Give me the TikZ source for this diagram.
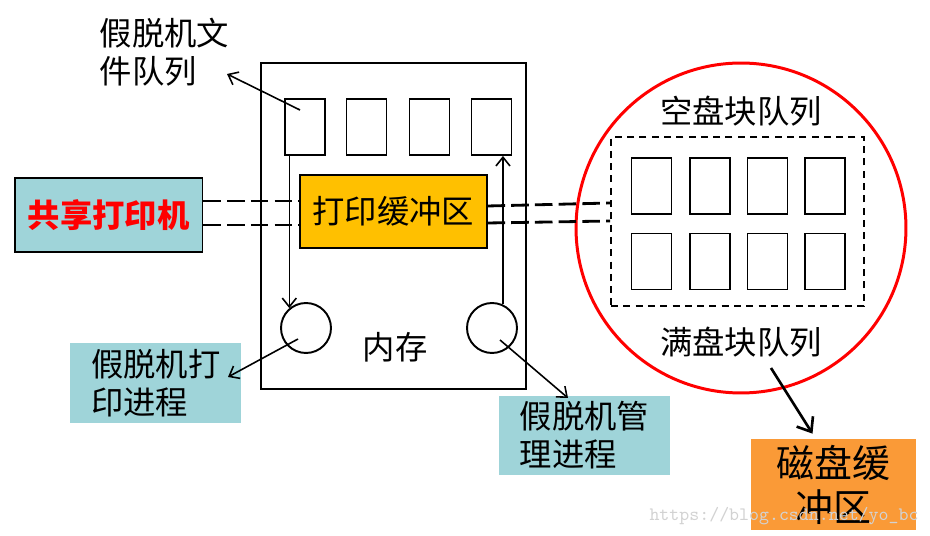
\documentclass[tikz,border=0pt]{standalone}
\usepackage{fontspec}
\setmainfont{Noto Sans CJK SC}
\usetikzlibrary{arrows.meta}
\definecolor{tealbox}{HTML}{9FD4D9}
\definecolor{bufgold}{HTML}{FFC000}
\definecolor{diskorange}{HTML}{FA9A37}
\tikzset{
  cn/.style={font=\fontsize{18.4}{21.6}\selectfont},
  slot/.style={draw,line width=1.1pt,minimum width=0.8cm,minimum height=1.12cm,inner sep=0pt},
  proc/.style={draw,circle,line width=1.1pt,minimum size=1cm,inner sep=0pt},
  note/.style={cn,fill=tealbox,minimum width=3.43cm,minimum height=1.48cm,align=left},
  arr/.style={-{Straight Barb[length=5pt,width=8pt]},line width=0.9pt},
  link/.style={dash pattern=on 10pt off 3.5pt,line width=1.6pt}
}

\begin{document}
\begin{tikzpicture}[x=0.02cm,y=-0.02cm]
  \useasboundingbox (0,0) rectangle (930,536);
  % memory side
  \node[draw,line width=1.1pt,minimum width=5.3cm,minimum height=6.52cm] (mem) at (393.5,226) {};
  \node[cn] (memtxt) at (395,347) {内存};
  \foreach \name/\x in {q1/305,q2/366.5,q3/429.5,q4/491.5}
    \node[slot] (\name) at (\x,127) {};
  \node[cn,draw,line width=1.1pt,fill=bufgold,minimum width=3.73cm,minimum height=1.46cm] (buf) at (393.3,211.5) {打印缓冲区};
  \node[proc] (pl) at (306,328) {};
  \node[proc] (pr) at (492,328) {};
  \node[cn,align=left] (spool) at (164.5,52.5) {假脱机文\\件队列};
  \node[cn,draw,line width=1.1pt,fill=tealbox,text=red,minimum width=3.75cm,minimum height=1.48cm] (printer) at (108.75,215) {\bfseries 共享打印机};
  \node[note] (pp) at (155.75,383) {假脱机打\\印进程};
  \node[note] (mp) at (584.5,435.5) {假脱机管\\理进程};
  % disk side
  \node[draw=red,circle,line width=1.7pt,minimum size=6.6cm] (dc) at (741,228) {};
  \node[cn] (empty) at (741,111) {空盘块队列};
  \node[cn] (full) at (741,342) {满盘块队列};
  \node[draw,dash pattern=on 4pt off 3pt,line width=1.1pt,minimum width=5.06cm,minimum height=3.38cm] (dq) at (737.5,221.5) {};
  \foreach \name/\x in {a/651.5,b/710,c/767.5,d/825}{
    \node[slot] (e\name) at (\x,186) {};
    \node[slot] (f\name) at (\x,261.5) {};
  }
  \node[font=\fontsize{21.6}{25}\selectfont,fill=diskorange,align=center,minimum width=3.3cm,minimum height=1.82cm] (dbuf) at (833.5,484.5) {磁盘缓\\冲区};
  % links
  \draw[link] ([yshift=0.28cm]printer.east) -- ([yshift=0.28cm]buf.west |- printer.east);
  \draw[link] ([yshift=-0.2cm]printer.east) -- ([yshift=-0.2cm]buf.west |- printer.east);
  \draw[link] ([yshift=0.11cm]buf.east) -- ([yshift=0.37cm]dq.west);
  \draw[link] ([yshift=-0.23cm]buf.east) -- ([yshift=0.01cm]dq.west);
  \coordinate (tspool) at (227,74);
  \coordinate (tpp) at (228,377);
  \coordinate (tmp) at (568,398);
  \draw[arr] ([shift={(-5,-17)}]q1.center) -- (tspool);
  \draw[arr] (q1.south -| pl.130) -- (pl.130);
  \draw[arr] (pr.65) -- (q4.south -| pr.65);
  \draw[arr] ([shift={(-8,11)}]pl.center) -- (tpp);
  \draw[arr] ([shift={(8,12)}]pr.center) -- (tmp);
  \draw[-{Straight Barb[length=7pt,width=11pt]},line width=1.5pt] ([shift={(30,26)}]full.center) -- ([shift={(-21,-5)}]dbuf.north);
  \node[text=gray!35,font=\ttfamily\fontsize{10.8}{12}\selectfont] (wm) at (784,516) {https://blog.csdn.net/yo\_bc};
\end{tikzpicture}
\end{document}
